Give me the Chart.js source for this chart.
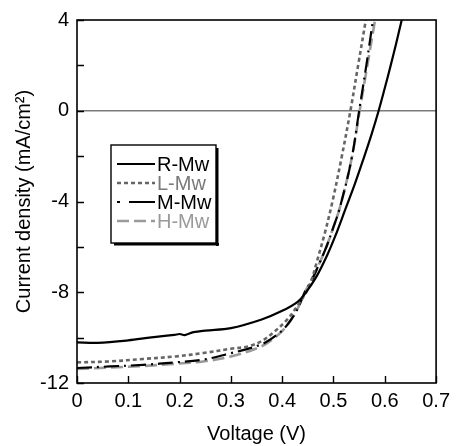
<!DOCTYPE html>
<html>
<head>
<meta charset="utf-8">
<script src="https://cdn.jsdelivr.net/npm/chart.js@4.4.1/dist/chart.umd.min.js"></script>
<style>
  html, body { margin: 0; padding: 0; background: #fff; }
  #wrap { width: 456px; height: 446px; }
</style>
</head>
<body>
<div id="wrap"><canvas id="c" width="456" height="446"></canvas></div>
<script>
// ---- data ----
const seriesNames = ['R-Mw', 'L-Mw', 'M-Mw', 'H-Mw'];

const rV = [0, 0.04, 0.1, 0.145, 0.19, 0.2, 0.21, 0.227, 0.25, 0.3, 0.36, 0.4, 0.43, 0.445, 0.467, 0.487, 0.503, 0.523, 0.542, 0.558, 0.574, 0.588, 0.6, 0.6115, 0.6225, 0.633];
const rJ = [-10.21, -10.23, -10.12, -9.99, -9.88, -9.84, -9.89, -9.76, -9.69, -9.58, -9.2, -8.82, -8.42, -8.05, -7.3, -6.4, -5.55, -4.35, -3.2, -2.15, -1.05, 0, 1.0, 2.0, 3.0, 4];

const lV = [0, 0.064, 0.129, 0.192, 0.246, 0.3, 0.333, 0.36, 0.384, 0.41, 0.429, 0.448, 0.458, 0.467, 0.483, 0.498, 0.515, 0.533, 0.548, 0.563];
const lJ = [-11.09, -11.05, -10.94, -10.83, -10.68, -10.49, -10.39, -10.15, -9.75, -9.2, -8.62, -7.95, -7.4, -6.7, -5.4, -4.0, -2.15, 0, 2.0, 4];

const mV = [0, 0.064, 0.129, 0.192, 0.246, 0.294, 0.358, 0.39, 0.41, 0.429, 0.444, 0.458, 0.473, 0.487, 0.498, 0.512, 0.535, 0.55, 0.564, 0.577];
const mJ = [-11.34, -11.27, -11.2, -11.09, -10.97, -10.72, -10.31, -9.87, -9.43, -8.77, -8.0, -7.45, -6.7, -5.95, -5.25, -4.3, -2.15, 0, 2.0, 4];

const hV = [0, 0.064, 0.129, 0.192, 0.246, 0.3, 0.358, 0.39, 0.41, 0.429, 0.444, 0.458, 0.473, 0.487, 0.498, 0.512, 0.535, 0.551, 0.566, 0.581];
const hJ = [-11.38, -11.32, -11.25, -11.15, -11.05, -10.83, -10.4, -9.92, -9.45, -8.77, -8.0, -7.45, -6.7, -5.95, -5.25, -4.3, -2.15, 0, 2.0, 4];

const xTicks = [0, 0.1, 0.2, 0.3, 0.4, 0.5, 0.6, 0.7];
const yTicks = [-12, -10, -8, -6, -4, -2, 0, 2, 4];
const yLabelled = [-12, -8, -4, 0, 4];

const xTitle = 'Voltage (V)';
const yTitle = 'Current density (mA/cm²)';

// ---- build ----
function pts(v, j) { return v.map((x, i) => ({ x: x, y: j[i] })); }

const styles = [
  { color: '#000000', dash: [], width: 2.2, text: '#000000' },
  { color: '#666666', dash: [4, 3], width: 2.6, text: '#7a7a7a' },
  { color: '#000000', dash: [15, 5, 2, 5], width: 2.2, text: '#000000' },
  { color: '#9a9a9a', dash: [12, 5], width: 2.6, text: '#9a9a9a' }
];
const dataArr = [pts(rV, rJ), pts(lV, lJ), pts(mV, mJ), pts(hV, hJ)];

const FONT = '"Liberation Sans", Arial, sans-serif';

const frame = {
  id: 'frame',
  afterDatasetsDraw(chart) {
    const { ctx, chartArea: a, scales: { x, y } } = chart;
    ctx.save();
    ctx.strokeStyle = '#000';
    ctx.lineWidth = 1.6;
    ctx.setLineDash([]);
    ctx.strokeRect(a.left, a.top, a.right - a.left, a.bottom - a.top);
    ctx.lineWidth = 1.4;
    ctx.beginPath();
    yTicks.forEach(v => {
      const py = Math.round(y.getPixelForValue(v)) + 0.5;
      ctx.moveTo(a.left, py); ctx.lineTo(a.left + 7, py);
    });
    xTicks.forEach(v => {
      const px = Math.round(x.getPixelForValue(v)) + 0.5;
      ctx.moveTo(px, a.bottom); ctx.lineTo(px, a.bottom - 7);
    });
    ctx.stroke();

    // legend box
    const bx = 111, by = 145, bw = 105, bh = 98;
    ctx.fillStyle = '#fff';
    ctx.fillRect(bx, by, bw, bh);
    ctx.fillStyle = '#000';
    ctx.fillRect(bx + 3, by + bh, bw, 2.5);
    ctx.fillRect(bx + bw, by + 3, 2.5, bh);
    ctx.lineWidth = 1.4;
    ctx.strokeStyle = '#000';
    ctx.strokeRect(bx, by, bw, bh);
    const rows = [164, 183, 202, 221];
    chart.data.datasets.forEach((ds, i) => {
      const yy = rows[i];
      ctx.beginPath();
      ctx.strokeStyle = ds.borderColor;
      ctx.lineWidth = ds.borderWidth;
      if (i === 2) {
        ctx.setLineDash([]);
        ctx.moveTo(117, yy); ctx.lineTo(120, yy);
        ctx.moveTo(129, yy); ctx.lineTo(155, yy);
      } else {
        ctx.setLineDash(ds.borderDash);
        ctx.moveTo(117, yy); ctx.lineTo(155, yy);
      }
      ctx.stroke();
      ctx.setLineDash([]);
      ctx.fillStyle = styles[i].text;
      ctx.font = '20px ' + FONT;
      ctx.textBaseline = 'middle';
      ctx.textAlign = 'left';
      ctx.fillText(ds.label, 157, yy + 1);
    });
    ctx.restore();
  }
};

new Chart(document.getElementById('c'), {
  type: 'line',
  data: {
    datasets: dataArr.map((d, i) => ({
      label: seriesNames[i],
      data: d,
      borderColor: styles[i].color,
      borderDash: styles[i].dash,
      borderWidth: styles[i].width,
      pointRadius: 0,
      fill: false,
      tension: 0.35
    }))
  },
  options: {
    responsive: false,
    animation: false,
    events: [],
    layout: { padding: { left: 0, right: 15, top: 20, bottom: 0 } },
    plugins: { legend: { display: false }, tooltip: { enabled: false } },
    scales: {
      x: {
        type: 'linear', min: 0, max: 0.7,
        afterFit: s => { s.height = 63; },
        afterBuildTicks: s => { s.ticks = xTicks.map(v => ({ value: v })); },
        ticks: {
          color: '#000', padding: 6, maxRotation: 0,
          font: { family: FONT, size: 20 },
          callback: v => (v === 0 ? '0' : Number(v).toFixed(1))
        },
        grid: { display: false, drawTicks: false },
        border: { display: false },
        title: { display: true, text: xTitle, color: '#000', font: { family: FONT, size: 20 }, padding: { top: 0, bottom: 0 } }
      },
      y: {
        type: 'linear', min: -12, max: 4,
        afterFit: s => { s.width = 77; },
        afterBuildTicks: s => { s.ticks = yTicks.map(v => ({ value: v })); },
        ticks: {
          color: '#000', padding: 8,
          font: { family: FONT, size: 20 },
          callback: v => (yLabelled.includes(v) ? String(v) : '')
        },
        grid: {
          drawTicks: false,
          color: c => (c.tick && c.tick.value === 0 ? '#7a7a7a' : 'rgba(0,0,0,0)'),
          lineWidth: 1.5
        },
        border: { display: false },
        title: { display: true, text: yTitle, color: '#000', font: { family: FONT, size: 20 }, padding: { top: 12, bottom: 0 } }
      }
    }
  },
  plugins: [frame]
});
</script>
</body>
</html>
